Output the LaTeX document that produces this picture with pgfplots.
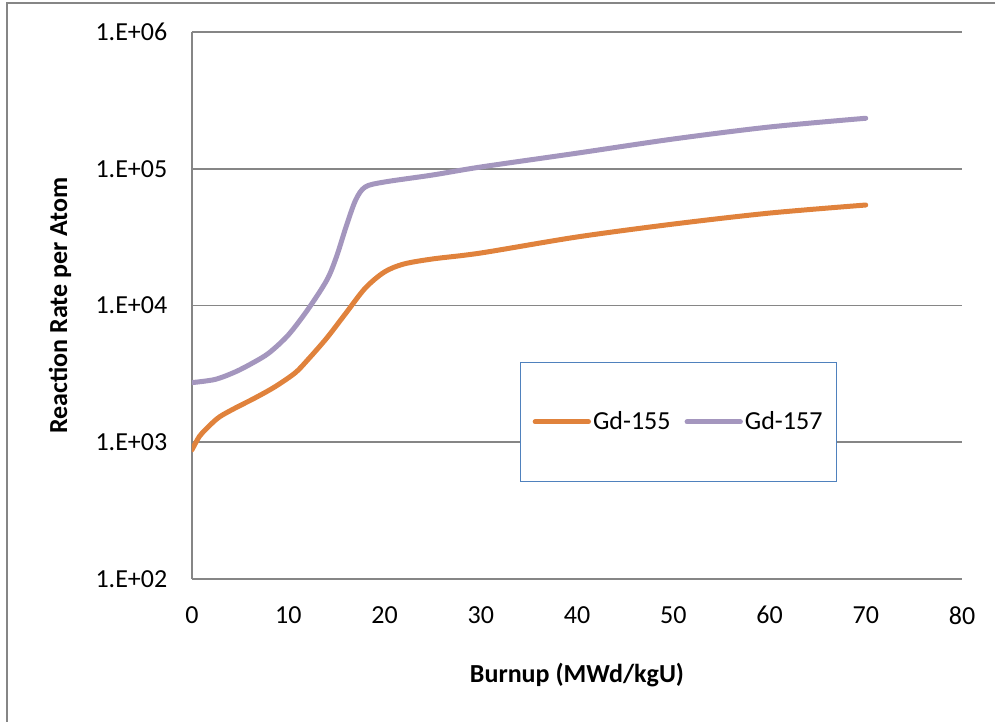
\documentclass[border=0pt]{standalone}
\usepackage{fontspec}
\setmainfont{Carlito}
\usepackage{pgfplots}
\pgfplotsset{compat=1.18}
\definecolor{gdorange}{RGB}{224,130,60}
\definecolor{gdpurple}{RGB}{164,150,190}
\definecolor{axgray}{RGB}{134,134,134}
\definecolor{legblue}{RGB}{79,129,189}
\begin{document}
\begin{tikzpicture}
\useasboundingbox (-144pt,-106.5pt) rectangle (602.25pt,434.25pt);
\draw[axgray, line width=1.2pt] (-138.75pt,-110pt) -- (-138.75pt,432pt) -- (610pt,432pt);
\begin{axis}[
  at={(0,0)}, anchor=south west,
  scale only axis, width=577.5pt, height=410.25pt,
  ymode=log, log basis y=10,
  xmin=0, xmax=80, ymin=100, ymax=1e6,
  xtick={0,10,...,80},
  ytick={1e2,1e3,1e4,1e5,1e6},
  yticklabels={1.E+02,1.E+03,1.E+04,1.E+05,1.E+06},
  yminorticks=false, xminorticks=false,
  major tick length=0pt,
  axis x line*=bottom, axis y line*=left,
  axis line style={axgray, line width=1.3pt, -},
  ymajorgrids, grid style={axgray, line width=1.3pt},
  /pgf/number format/assume math mode=true,
  tick label style={font=\fontsize{19.5}{23}\selectfont, black},
  yticklabel style={xshift=-15pt},
  xticklabel style={yshift=-17pt},
  xlabel={\textbf{Burnup (MWd/kgU)}},
  ylabel={\textbf{Reaction Rate per Atom}},
  label style={font=\fontsize{19.5}{23}\selectfont},
  xlabel style={at={(axis description cs:0.5,-0.1755)}, anchor=center},
  ylabel style={at={(axis description cs:-0.1714,0.5)}, anchor=center},
  legend columns=2,
  legend style={at={(0.426,0.397)}, anchor=north west, draw=legblue, line width=1pt,
    inner xsep=9pt, inner ysep=35pt, font=\fontsize{19.5}{23}\selectfont,
    nodes={inner xsep=1.5pt},
    /tikz/every even column/.append style={column sep=9pt}},
  legend image code/.code={\draw[#1, line cap=round] (0pt,0pt) -- (40pt,0pt);},
]
\addplot[gdorange, line width=3.75pt, smooth, line cap=round] coordinates {
(0,880) (0.8,1110) (1.9,1340) (2.9,1540) (4.5,1780) (6.5,2100) (8.6,2540)
(10.7,3210) (12,3990) (14,5780) (16,8810) (18,13400) (20,17600) (22,20100)
(25,21900) (30,24200) (40,31700) (50,39400) (60,47400) (70,54300)
};
\addlegendentry{Gd-155}
\addplot[gdpurple, line width=3.75pt, smooth, line cap=round] coordinates {
(0,2730) (2.4,2880) (4.5,3270) (6.3,3800) (8,4500) (10,6080) (12,9270) (14,15300) (15,22600)
(16,37500) (17,59000) (18,73600) (20,80000) (25,90000) (30,103000)
(40,130000) (50,165000) (60,202000) (70,234000)
};
\addlegendentry{Gd-157}
\end{axis}
\end{tikzpicture}
\end{document}
